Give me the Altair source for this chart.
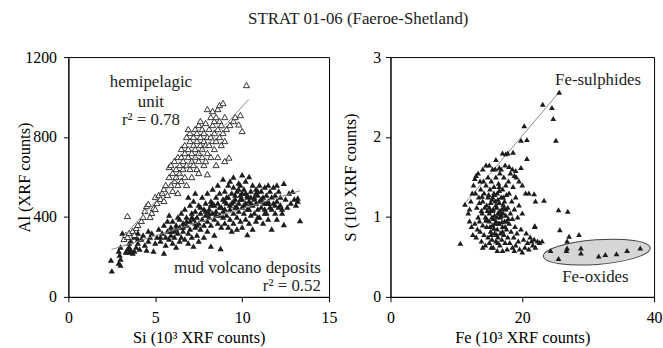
import altair as alt
import pandas as pd

SERIF = "Liberation Serif"
INK = "#1c1c1c"

# ---------------- left panel: Si vs Al ----------------
hemi_si = [3.2, 3.3, 3.4, 3.5, 3.4, 3.7, 3.9, 4.0, 3.8, 4.2, 4.3, 4.5, 4.6, 4.4, 4.8, 4.9, 5.0, 5.1, 5.2, 5.3,
           5.4, 5.5, 5.5, 5.6, 5.7, 5.8, 5.8, 5.9, 5.9, 6.0, 6.0, 6.1, 6.1, 6.2, 6.2, 6.3, 6.3, 6.4, 6.4, 6.5,
           6.5, 6.5, 6.6, 6.6, 6.7, 6.7, 6.7, 6.8, 6.8, 6.8, 6.9, 6.9, 7.0, 7.0, 7.0, 7.1, 7.1, 7.1, 7.2, 7.2,
           7.2, 7.3, 7.3, 7.3, 7.4, 7.4, 7.4, 7.5, 7.5, 7.5, 7.6, 7.6, 7.6, 7.7, 7.7, 7.7, 7.8, 7.8, 7.8, 7.9,
           7.9, 8.0, 8.0, 8.0, 8.0, 8.1, 8.1, 8.2, 8.2, 8.2, 8.3, 8.3, 8.3, 8.4, 8.4, 8.4, 8.5, 8.5, 8.5, 8.6,
           8.6, 8.6, 8.7, 8.7, 8.7, 8.8, 8.8, 8.9, 8.9, 9.0, 9.0, 9.0, 9.1, 9.24, 9.3, 9.5, 9.6, 9.8, 9.9, 10.0,
           10.25, 6.9, 7.5, 7.9, 6.3, 5.0, 4.7]
hemi_al = [290, 310, 300, 320, 405, 330, 345, 360, 310, 380, 400, 455, 465, 430, 420, 445, 500, 470, 510, 490,
           520, 480, 540, 560, 510, 600, 650, 660, 560, 620, 530, 580, 680, 600, 640, 560, 700, 620, 660, 580,
           740, 700, 640, 680, 600, 720, 760, 660, 560, 800, 700, 740, 640, 780, 820, 680, 720, 600, 760, 800,
           660, 700, 840, 740, 780, 640, 820, 720, 860, 680, 760, 800, 880, 740, 700, 840, 780, 820, 660, 760,
           870, 800, 940, 614, 720, 840, 760, 900, 800, 700, 860, 780, 930, 820, 740, 880, 900, 780, 660, 840,
           940, 700, 800, 880, 960, 860, 760, 820, 970, 900, 780, 680, 840, 697, 860, 880, 900, 863, 910, 830,
           1060, 840, 620, 680, 520, 440, 400]

mud_si = [2.5, 2.45, 2.9, 2.95, 3.0, 3.0, 3.3, 3.4, 3.5, 3.6, 3.7, 3.8, 3.9, 3.6, 3.8, 4.0, 4.0, 4.2, 4.3, 4.1,
          4.4, 4.5, 4.6, 4.7, 4.8, 4.9, 5.0, 5.1, 5.2, 5.3, 5.4, 5.5, 5.5, 5.6, 5.6, 5.7, 5.7, 5.8, 5.8, 5.9,
          5.9, 6.0, 6.0, 6.1, 6.1, 6.2, 6.2, 6.3, 6.3, 6.4, 6.4, 6.5, 6.5, 6.6, 6.6, 6.7, 6.7, 6.8, 6.8, 6.9,
          6.9, 7.0, 7.0, 7.0, 7.1, 7.1, 7.2, 7.2, 7.2, 7.3, 7.3, 7.4, 7.4, 7.5, 7.5, 7.5, 7.6, 7.6, 7.7, 7.7,
          7.8, 7.8, 7.8, 7.9, 7.9, 8.0, 8.0, 8.0, 8.1, 8.1, 8.2, 8.2, 8.2, 8.3, 8.3, 8.4, 8.4, 8.4, 8.5, 8.5,
          8.6, 8.6, 8.6, 8.7, 8.76, 8.7, 8.8, 8.8, 8.9, 8.9, 9.0, 9.0, 9.0, 9.1, 9.1, 9.2, 9.2, 9.2, 9.3, 9.3,
          9.4, 9.4, 9.4, 9.5, 9.5, 9.5, 9.6, 9.6, 9.7, 9.7, 9.7, 9.8, 9.8, 9.8, 9.9, 9.9, 10.0, 10.0, 10.0, 10.0,
          10.1, 10.1, 10.2, 10.2, 10.2, 10.3, 10.3, 10.3, 10.4, 10.4, 10.4, 10.5, 10.5, 10.6, 10.6, 10.6, 10.7, 10.7, 10.8, 10.8,
          10.8, 10.9, 10.9, 11.0, 11.0, 11.0, 11.1, 11.1, 11.2, 11.2, 11.3, 11.3, 11.4, 11.4, 11.5, 11.5, 11.6, 11.6, 11.7, 11.7,
          11.8, 11.8, 11.9, 11.9, 12.0, 12.0, 12.1, 12.2, 12.2, 12.3, 12.4, 12.4, 12.5, 12.6, 12.7, 12.8, 12.9, 13.0, 13.1, 13.2,
          13.33, 13.2, 12.0, 11.5, 9.5, 8.9, 9.3, 7.3, 6.9, 3.1, 3.5, 2.9, 3.0,
          6.2, 6.4, 6.6, 6.8, 7.1, 7.3, 7.6, 7.9, 8.1, 8.3, 8.5, 8.7, 8.9, 9.1, 9.3, 9.5, 9.7, 9.9, 10.1, 10.3,
          10.5, 10.7, 10.9, 11.1, 11.3, 11.5, 11.7, 11.9, 12.1, 12.3, 9.6, 9.9, 10.2, 10.5, 10.8, 11.1, 11.4, 9.0, 8.2, 7.4,
          5.9, 5.3, 4.6, 4.0, 3.5, 10.0, 10.4, 10.9, 11.3, 9.8]
mud_al = [130, 185, 230, 210, 190, 250, 225, 240, 225, 235, 220, 230, 250, 280, 300, 270, 320, 290, 310, 240,
          260, 235, 330, 300, 320, 230, 270, 300, 340, 280, 320, 220, 360, 300, 260, 380, 330, 290, 410, 350,
          310, 270, 380, 330, 300, 360, 250, 320, 400, 280, 350, 300, 420, 370, 330, 290, 440, 360, 400, 320,
          270, 380, 460, 340, 420, 300, 254, 390, 480, 350, 430, 310, 400, 460, 370, 280, 340, 420, 390, 500,
          360, 440, 300, 410, 470, 380, 520, 330, 440, 400, 254, 360, 480, 420, 540, 390, 460, 310, 430, 500,
          370, 470, 560, 410, 242, 520, 450, 350, 490, 400, 440, 530, 370, 470, 410, 500, 350, 560, 440, 390,
          520, 470, 330, 420, 550, 370, 490, 450, 400, 530, 340, 470, 430, 570, 510, 380, 611, 450, 490, 350,
          420, 540, 470, 390, 580, 510, 440, 312, 602, 480, 370, 530, 410, 460, 560, 340, 500, 420, 540, 380,
          470, 510, 440, 560, 400, 480, 450, 530, 370, 500, 470, 550, 420, 510, 480, 390, 530, 450, 500, 340,
          470, 550, 420, 510, 480, 390, 530, 460, 500, 420, 569, 362, 490, 450, 520, 470, 528, 490, 460, 495,
          382, 480, 560, 560, 600, 590, 580, 520, 500, 320, 270, 170, 160,
          340, 390, 350, 380, 400, 370, 450, 430, 420, 470, 410, 450, 430, 500, 460, 480, 450, 490, 460, 500,
          470, 490, 530, 480, 440, 470, 440, 460, 450, 440, 510, 560, 520, 500, 520, 490, 470, 480, 460, 360,
          330, 300, 280, 290, 250, 520, 440, 400, 420, 540]

hemi_line_si = [3.15, 10.38]
hemi_line_al = [300, 988]
mud_line_si = [2.48, 13.33]
mud_line_al = [237, 531]

left_labels = ["hemipelagic", "unit", "r² = 0.78"]
left_label_si = [4.75, 4.75, 4.75]
left_label_al = [1075, 977, 884]
mud_labels = ["mud volcano deposits", "r² = 0.52"]
mud_label_si = [14.53, 14.53]
mud_label_al = [146, 55]

# ---------------- right panel: Fe vs S ----------------
fe_pts = [11.3, 11.8, 12.0, 12.2, 12.4, 12.6, 12.8, 13.0, 13.3, 13.6, 14.0, 14.5, 15.0, 15.5, 16.0, 16.5, 17.0, 17.5, 18.0, 18.5,
          19.0, 19.8, 18.8, 19.5, 20.0, 20.5, 21.0, 22.0, 10.6, 12.0, 12.3, 12.5, 12.8, 13.0, 13.2, 13.3, 13.5, 13.6, 13.8, 13.8,
          14.0, 14.0, 14.2, 14.2, 14.4, 14.4, 14.5, 14.6, 14.6, 14.8, 14.8, 14.8, 15.0, 15.0, 15.0, 15.1, 15.2, 15.2, 15.3, 15.4,
          15.4, 15.5, 15.5, 15.6, 15.6, 15.7, 15.8, 15.8, 15.9, 16.0, 16.0, 16.0, 16.1, 16.2, 16.2, 16.3, 16.3, 16.4, 16.5, 16.5,
          16.6, 16.6, 16.7, 16.7, 16.8, 16.9, 16.9, 17.0, 17.0, 17.0, 17.1, 17.2, 17.2, 17.3, 17.3, 17.4, 17.5, 17.5, 17.6, 17.6,
          17.7, 17.8, 17.8, 17.9, 18.0, 18.0, 18.1, 18.2, 18.2, 18.3, 18.4, 18.5, 18.5, 18.6, 18.7, 18.8, 18.9, 19.0, 19.0, 19.1,
          19.2, 19.3, 19.4, 19.5, 19.6, 19.8, 20.0, 20.0, 20.2, 20.4, 20.6, 20.8, 21.0, 21.2, 21.4, 21.6, 21.8, 22.0, 22.3, 22.6,
          23.0, 21.9, 13.4, 12.9, 14.1, 13.7, 15.9, 16.8, 17.4, 16.2, 15.3, 14.0, 18.8,
          15.2, 15.6, 16.0, 16.4, 16.8, 17.2, 17.6, 15.4, 15.8, 16.2, 16.6, 17.0, 17.4, 15.0, 16.5, 17.1, 14.6, 15.7, 16.9, 16.3,
          13.1, 13.5, 13.9, 14.3, 14.7, 15.1, 15.5, 15.9, 16.3, 16.7, 17.1, 14.9, 15.3, 15.7, 16.1, 16.5, 14.5, 13.9, 17.5, 17.9,
          25.6, 23.1, 24.5, 24.7, 25.1, 20.3, 19.8, 20.7, 18.6, 17.8, 20.7, 23.3, 21.8, 25.5, 26.9, 25.7, 27.1, 28.6, 26.8, 21.9,
          24.3, 25.5, 26.7, 26.8, 28.9, 28.9, 31.6, 32.6, 34.3, 35.9, 37.9]
s_pts = [1.16, 1.05, 1.10, 1.20, 1.30, 1.40, 1.48, 1.52, 1.55, 1.45, 1.60, 1.65, 1.65, 1.60, 1.72, 1.62, 1.80, 1.79, 1.63, 1.60,
         1.58, 1.62, 1.52, 1.45, 1.40, 1.30, 1.30, 1.20, 0.67, 0.95, 0.88, 0.78, 0.92, 0.75, 0.85, 1.00, 0.95, 0.82, 0.70, 1.08,
         0.90, 1.20, 0.78, 1.30, 1.00, 0.65, 1.40, 0.88, 1.15, 0.75, 1.25, 1.50, 0.95, 1.05, 0.68, 1.35, 0.82, 1.18, 1.45, 0.72,
         1.00, 1.25, 0.90, 1.10, 0.62, 1.38, 0.80, 1.02, 1.20, 0.70, 0.95, 1.50, 1.12, 0.85, 1.30, 1.05, 0.75, 1.42, 0.92, 1.18,
         0.65, 1.55, 1.00, 0.80, 1.25, 1.10, 0.72, 0.88, 1.35, 0.58, 1.05, 1.50, 0.78, 1.20, 0.95, 0.68, 1.40, 1.02, 0.85, 1.28,
         0.60, 1.12, 0.75, 1.45, 0.92, 1.30, 0.68, 1.05, 1.55, 0.82, 1.20, 0.62, 0.98, 1.38, 0.75, 1.10, 0.88, 1.25, 0.65, 1.50,
         0.80, 1.00, 0.70, 1.15, 0.60, 0.85, 1.05, 0.56, 0.72, 0.62, 0.80, 0.68, 0.60, 0.75, 0.70, 0.65, 0.72, 0.62, 0.70, 0.68,
         0.70, 0.88, 1.25, 1.30, 1.45, 1.35, 1.60, 1.60, 1.65, 0.58, 0.62, 0.62, 0.58,
         1.08, 0.98, 1.15, 0.92, 1.02, 1.12, 0.95, 1.22, 1.28, 1.00, 1.08, 0.82, 0.88, 1.12, 1.33, 1.25, 0.98, 0.86, 0.94, 0.68,
         1.12, 1.18, 1.05, 1.12, 1.08, 0.88, 1.08, 0.92, 1.22, 1.04, 1.16, 1.28, 0.78, 1.30, 0.78, 1.38, 0.96, 1.26, 1.10, 0.98,
         2.56, 2.41, 2.37, 2.23, 1.96, 2.14, 1.96, 1.97, 1.81, 1.80, 1.73, 1.21, 1.29, 1.09, 1.07, 0.84, 0.76, 0.78, 0.70, 0.89,
         0.58, 0.48, 0.58, 0.61, 0.61, 0.55, 0.51, 0.53, 0.54, 0.58, 0.61]

sulph_line_fe = [11.3, 25.8]
sulph_line_s = [1.17, 2.58]

oxide_center_fe = [31.3]
oxide_center_s = [0.56]

right_labels = ["Fe-sulphides", "Fe-oxides"]
right_label_fe = [31.5, 31.1]
right_label_s = [2.71, 0.25]

# ---------------- build ----------------
def axis(values, title, **kw):
    return alt.Axis(values=values, title=title, grid=False, format="d", labelFont=SERIF, titleFont=SERIF,
                    labelFontSize=16, titleFontSize=16.5, titleFontWeight="normal",
                    labelColor="black", titleColor="black", tickColor="black", domainColor="black",
                    tickSize=5, labelFlush=False, **kw)

xL = alt.X("x:Q", scale=alt.Scale(domain=[0, 15], nice=False, zero=False),
           axis=axis([0, 5, 10, 15], "Si (10³ XRF counts)", labelPadding=8, titlePadding=4))
yL = alt.Y("y:Q", scale=alt.Scale(domain=[0, 1200], nice=False, zero=False),
           axis=axis([0, 400, 800, 1200], "Al (XRF counts)", labelPadding=7, titleX=-36, titleY=121))

hemi = pd.DataFrame({"x": hemi_si, "y": hemi_al})
mud = pd.DataFrame({"x": mud_si, "y": mud_al})
hl = pd.DataFrame({"x": hemi_line_si, "y": hemi_line_al})
ml = pd.DataFrame({"x": mud_line_si, "y": mud_line_al})
lt = pd.DataFrame({"x": left_label_si, "y": left_label_al, "t": left_labels})
mt = pd.DataFrame({"x": mud_label_si, "y": mud_label_al, "t": mud_labels})

left = alt.layer(
    alt.Chart(mud).mark_point(shape="triangle-up", filled=True, color=INK, size=40, opacity=1).encode(x=xL, y=yL),
    alt.Chart(ml).mark_line(color="#8a8a8a", strokeWidth=1).encode(x="x:Q", y="y:Q"),
    alt.Chart(hemi).mark_point(shape="triangle-up", filled=True, fill="white", stroke=INK,
                               strokeWidth=0.9, size=38, opacity=1).encode(x="x:Q", y="y:Q"),
    alt.Chart(hl).mark_line(color="#8a8a8a", strokeWidth=1).encode(x="x:Q", y="y:Q"),
    alt.Chart(lt).mark_text(font=SERIF, fontSize=17, color="#222", baseline="middle", align="center").encode(
        x="x:Q", y="y:Q", text="t:N"),
    alt.Chart(mt).mark_text(font=SERIF, fontSize=17, color="#222", baseline="middle", align="right").encode(
        x="x:Q", y="y:Q", text="t:N"),
).properties(width=263, height=242)

xR = alt.X("x:Q", scale=alt.Scale(domain=[0, 40], nice=False, zero=False),
           axis=axis([0, 20, 40], "Fe (10³ XRF counts)", labelPadding=8, titlePadding=4))
yR = alt.Y("y:Q", scale=alt.Scale(domain=[0, 3], nice=False, zero=False),
           axis=axis([0, 1, 2, 3], "S (10³ XRF counts)", labelPadding=5, titleX=-32, titleY=121))

pts = pd.DataFrame({"x": fe_pts, "y": s_pts})
sl = pd.DataFrame({"x": sulph_line_fe, "y": sulph_line_s})
ox = pd.DataFrame({"x": oxide_center_fe, "y": oxide_center_s})
rt = pd.DataFrame({"x": right_label_fe, "y": right_label_s, "t": right_labels})

ellipse_path = "M -1 0 A 1 0.23 0 1 1 1 0 A 1 0.23 0 1 1 -1 0 Z"

right = alt.layer(
    alt.Chart(ox).mark_point(shape=ellipse_path, filled=True, fill="#d6d6d6", stroke="#444",
                             strokeWidth=1, size=11664, angle=355.6, opacity=1).encode(x=xR, y=yR),
    alt.Chart(sl).mark_line(color="#8a8a8a", strokeWidth=1).encode(x="x:Q", y="y:Q"),
    alt.Chart(pts).mark_point(shape="triangle-up", filled=True, color=INK, size=34, opacity=1).encode(
        x="x:Q", y="y:Q"),
    alt.Chart(rt).mark_text(font=SERIF, fontSize=17, color="#222", baseline="middle", align="center").encode(
        x="x:Q", y="y:Q", text="t:N"),
).properties(width=266, height=242)

chart = alt.hconcat(left, right, spacing=4).properties(
    title=alt.TitleParams("STRAT 01-06 (Faeroe-Shetland)", font=SERIF, fontSize=17, fontWeight="normal",
                          color="#222", anchor="middle", offset=21, dx=19),
    padding={"left": 16, "top": 8, "right": 0, "bottom": 0},
    background="white",
).configure(font=SERIF).configure_view(stroke="black", strokeWidth=1).configure_concat(
    spacing=4).configure_axis(labelFont=SERIF, titleFont=SERIF).configure_text(font=SERIF)

chart.save("out.html", embed_options={"renderer": "svg", "actions": False})
